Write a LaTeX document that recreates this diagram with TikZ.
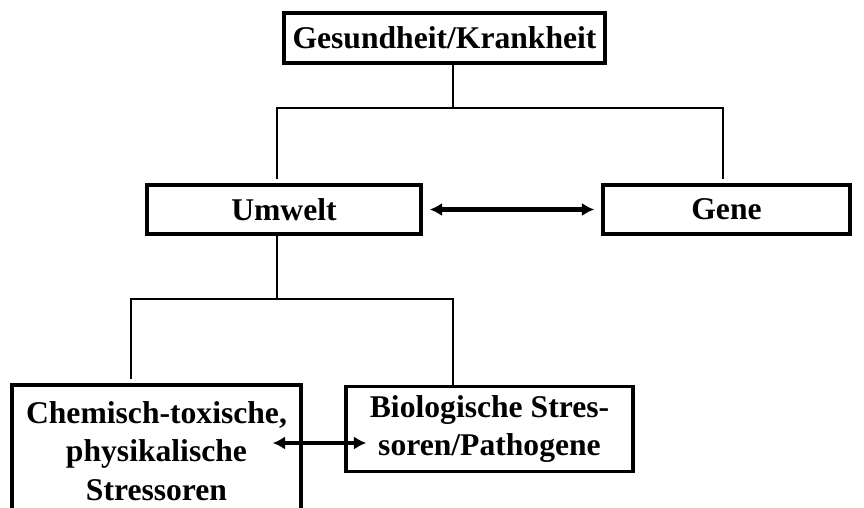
\documentclass[tikz,border=0pt]{standalone}
\usepackage{fontspec}
\setmainfont{Liberation Serif}
\usetikzlibrary{arrows.meta}
\begin{document}
\begin{tikzpicture}[x=0.02cm,y=-0.02cm,
    box/.style={draw,line width=2pt,align=center,inner sep=0pt,
        font=\fontsize{18}{22}\selectfont\bfseries},
    tree/.style={line width=0.9pt},
    link/.style={line width=2.4pt,{Latex[length=7pt,width=7.5pt]}-{Latex[length=7pt,width=7.5pt]}}]
        \useasboundingbox (0,0) rectangle (864,507);
        \node[box,minimum width=6.42cm,minimum height=1cm] (top) at (444.5,38) {Gesundheit/Krankheit};
        \node[box,minimum width=5.48cm,minimum height=0.98cm] (umwelt) at (284,209.5) {Umwelt};
        \node[box,minimum width=4.94cm,minimum height=0.98cm] (gene) at (726.5,209.5) {Gene};
        \node[box,minimum width=5.78cm,minimum height=2.64cm] (chem) at (156.5,451) {Chemisch-toxische,\\physikalische\\Stressoren};
        \node[box,minimum width=5.74cm,minimum height=1.7cm] (bio) at (489.5,429) {Biologische Stres-\\soren/Pathogene};
        % branch points
        \coordinate (t1) at (453,108);
        \coordinate (t1l) at (277,108);
        \coordinate (t1r) at (723,108);
        \coordinate (u1) at (277,299);
        \coordinate (u1l) at (131,299);
        \coordinate (u1r) at (453,299);
        \draw[tree] (top.south -| t1) -- (t1);
        \draw[tree] ([yshift=0.08cm]t1l |- umwelt.north) -- (t1l) -- (t1r) -- ([yshift=0.08cm]t1r |- gene.north);
        \draw[tree] (umwelt.south -| u1) -- (u1);
        \draw[tree] ([yshift=0.08cm]u1l |- chem.north) -- (u1l) -- (u1r) -- ([yshift=-0.06cm]u1r |- bio.north);
        % arrows
        \draw[link,shorten <=4pt,shorten >=4pt] (umwelt.east) -- (gene.west);
        \draw[link] ([xshift=-0.6cm,yshift=0.16cm]chem.east) -- ([xshift=0.44cm,yshift=0.16cm]chem.east -| bio.west);
    \end{tikzpicture}
\end{document}
